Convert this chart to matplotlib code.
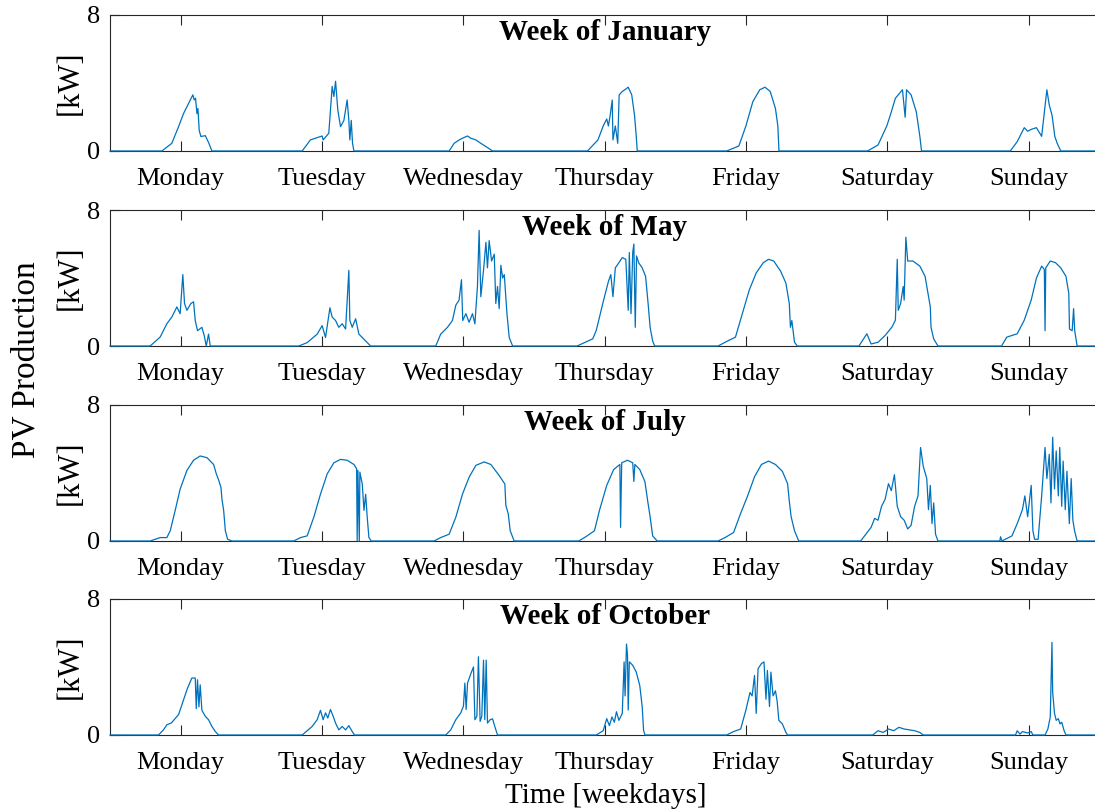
import matplotlib
matplotlib.use("Agg")
import matplotlib.pyplot as plt

# weekday names on the x axis, time is given in days from Monday 00:00
days = ["Monday", "Tuesday", "Wednesday", "Thursday", "Friday", "Saturday", "Sunday"]
titles = ["Week of January", "Week of May", "Week of July", "Week of October"]

# week of January
jan_t = [0,
         0.367, 0.437, 0.485, 0.520, 0.556, 0.586, 0.596, 0.605, 0.615, 0.622, 0.631, 0.643, 0.674, 0.697, 0.721,
         1.360, 1.418, 1.501, 1.508, 1.548, 1.572, 1.584, 1.596, 1.612, 1.631, 1.655, 1.678, 1.690, 1.697, 1.707, 1.716, 1.726,
         2.400, 2.435, 2.471, 2.494, 2.530, 2.553, 2.589, 2.624, 2.671, 2.707,
         3.379, 3.453, 3.490, 3.515, 3.527, 3.539, 3.554, 3.559, 3.576, 3.593, 3.603, 3.625, 3.643, 3.667, 3.692, 3.712, 3.724, 3.731,
         4.364, 4.450, 4.500, 4.549, 4.598, 4.635, 4.672, 4.709, 4.726, 4.734,
         5.361, 5.435, 5.497, 5.521, 5.558, 5.608, 5.627, 5.637, 5.669, 5.706, 5.731, 5.743,
         6.371, 6.420, 6.470, 6.494, 6.519, 6.556, 6.593, 6.630, 6.647, 6.667, 6.686, 6.703, 6.728, 7]
jan_kw = [0,
          0, 0.45, 1.43, 2.2, 2.8, 3.3, 3.0, 3.1, 2.2, 2.5, 1.2, 0.85, 0.9, 0.5, 0,
          0, 0.65, 0.88, 0.65, 1.04, 3.8, 3.2, 4.1, 2.4, 1.43, 1.8, 3.0, 1.8, 0.65, 1.8, 0.45, 0,
          0, 0.45, 0.65, 0.75, 0.88, 0.75, 0.65, 0.45, 0.2, 0,
          0, 0.65, 1.47, 1.88, 1.47, 2.08, 3.0, 0.65, 1.47, 0.45, 3.3, 3.5, 3.6, 3.75, 3.3, 2.08, 0.86, 0,
          0, 0.29, 1.47, 2.9, 3.6, 3.75, 3.5, 2.5, 1.47, 0,
          0, 0.35, 1.47, 2.08, 3.1, 3.6, 1.98, 3.6, 3.3, 2.3, 0.86, 0,
          0, 0.55, 1.37, 1.16, 1.27, 1.37, 0.86, 3.6, 2.7, 2.08, 0.86, 0.45, 0, 0]

# week of May
may_t = [0,
         0.284, 0.355, 0.402, 0.437, 0.473, 0.496, 0.515, 0.527, 0.544, 0.572, 0.591, 0.603, 0.619, 0.650, 0.667, 0.681, 0.697, 0.709,
         1.336, 1.395, 1.466, 1.501, 1.525, 1.556, 1.572, 1.596, 1.619, 1.643, 1.667, 1.690, 1.697, 1.714, 1.738, 1.761, 1.797, 1.844,
         2.305, 2.340, 2.388, 2.423, 2.447, 2.470, 2.487, 2.496, 2.518, 2.541, 2.565, 2.582, 2.600, 2.612, 2.624, 2.643, 2.660, 2.671,
         2.683, 2.700, 2.719, 2.730, 2.742, 2.754, 2.766, 2.778, 2.790, 2.809, 2.825, 2.849,
         3.305, 3.416, 3.441, 3.490, 3.527, 3.544, 3.559, 3.576, 3.601, 3.625, 3.650, 3.667, 3.675, 3.687, 3.699, 3.707, 3.717, 3.726,
         3.741, 3.766, 3.790, 3.810, 3.822, 3.840, 3.854,
         4.303, 4.376, 4.426, 4.475, 4.524, 4.573, 4.623, 4.660, 4.697, 4.746, 4.783, 4.807, 4.815, 4.825, 4.844, 4.864,
         5.300, 5.356, 5.386, 5.435, 5.485, 5.534, 5.558, 5.571, 5.578, 5.595, 5.613, 5.620, 5.632, 5.645, 5.682, 5.731, 5.768, 5.805,
         5.810, 5.829, 5.859,
         6.309, 6.346, 6.420, 6.470, 6.519, 6.556, 6.593, 6.612, 6.617, 6.622, 6.654, 6.691, 6.728, 6.765, 6.785, 6.790, 6.809, 6.819,
         6.827, 6.844, 7]
may_kw = [0,
          0, 0.53, 1.31, 1.7, 2.3, 1.9, 4.2, 2.5, 2.1, 2.5, 2.6, 1.5, 0.9, 1.1, 0.6, 0, 0.7, 0,
          0, 0.2, 0.7, 1.2, 0.5, 2.25, 1.7, 1.5, 1.1, 1.31, 1.0, 4.45, 1.5, 1.1, 1.6, 0.7, 0.4, 0,
          0, 0.7, 1.1, 1.5, 2.4, 2.7, 3.9, 1.5, 1.9, 1.4, 1.9, 1.3, 3.5, 6.8, 2.9, 4.45, 6.1, 4.6,
          6.2, 5.0, 5.4, 2.5, 3.5, 2.2, 4.75, 4.0, 4.2, 1.9, 0.5, 0,
          0, 0.42, 0.92, 2.6, 3.8, 4.2, 2.9, 4.6, 4.9, 5.2, 5.1, 2.1, 5.5, 1.9, 5.5, 6.0, 1.1, 5.3,
          4.9, 4.6, 4.1, 2.3, 1.1, 0.3, 0,
          0, 0.32, 0.52, 1.9, 3.3, 4.3, 4.9, 5.1, 5.0, 4.4, 3.7, 2.5, 1.1, 1.5, 0.22, 0,
          0, 0.72, 0.12, 0.22, 0.62, 1.12, 1.52, 5.1, 2.1, 2.5, 3.5, 2.7, 6.4, 5.0, 5.0, 4.7, 4.1, 2.3,
          1.1, 0.42, 0,
          0, 0.52, 0.72, 1.52, 2.7, 4.0, 4.7, 4.5, 0.9, 4.6, 5.0, 4.9, 4.6, 4.1, 3.1, 1.0, 0.9, 2.2,
          0.9, 0, 0]

# week of July
jul_t = [0,
         0.284, 0.355, 0.402, 0.426, 0.461, 0.496, 0.544, 0.591, 0.638, 0.686, 0.733, 0.752, 0.768, 0.785, 0.792, 0.804, 0.816, 0.832, 0.863,
         1.300, 1.348, 1.395, 1.442, 1.489, 1.537, 1.584, 1.631, 1.678, 1.726, 1.745, 1.749, 1.754, 1.764, 1.768, 1.785, 1.797, 1.809,
         1.820, 1.832, 1.849,
         2.293, 2.340, 2.400, 2.447, 2.494, 2.541, 2.589, 2.648, 2.695, 2.754, 2.794, 2.801, 2.818, 2.832, 2.860,
         3.318, 3.367, 3.428, 3.465, 3.515, 3.564, 3.608, 3.613, 3.621, 3.662, 3.699, 3.707, 3.714, 3.749, 3.785, 3.805, 3.822, 3.840, 3.872,
         4.303, 4.352, 4.413, 4.463, 4.512, 4.561, 4.610, 4.660, 4.709, 4.758, 4.795, 4.807, 4.820, 4.844, 4.874,
         5.312, 5.349, 5.386, 5.411, 5.435, 5.460, 5.485, 5.509, 5.529, 5.551, 5.571, 5.595, 5.620, 5.645, 5.669, 5.694, 5.718, 5.736,
         5.755, 5.780, 5.792, 5.805, 5.817, 5.829, 5.842, 5.859,
         6.297, 6.302, 6.312, 6.383, 6.420, 6.457, 6.474, 6.494, 6.519, 6.531, 6.543, 6.568, 6.593, 6.617, 6.630, 6.647, 6.659, 6.671,
         6.684, 6.696, 6.711, 6.721, 6.735, 6.745, 6.760, 6.772, 6.789, 6.802, 6.814, 6.826, 6.844, 7]
jul_kw = [0,
          0, 0.2, 0.2, 0.6, 1.8, 3.05, 4.15, 4.75, 5.0, 4.9, 4.5, 3.95, 3.6, 3.15, 2.45, 1.8, 0.6, 0.1, 0,
          0, 0.2, 0.3, 1.4, 2.75, 3.95, 4.6, 4.8, 4.75, 4.5, 4.25, 0, 4.15, 0, 4.05, 3.35, 1.8, 2.75,
          1.4, 0.2, 0,
          0, 0.2, 0.4, 1.4, 2.75, 3.75, 4.45, 4.65, 4.5, 3.85, 3.35, 2.1, 1.6, 0.6, 0,
          0, 0.25, 0.6, 1.84, 3.27, 4.2, 4.5, 0.8, 4.6, 4.75, 4.6, 3.5, 4.5, 4.2, 3.5, 2.35, 1.43, 0.3, 0,
          0, 0.2, 0.5, 1.63, 2.65, 3.78, 4.5, 4.7, 4.5, 4.1, 3.37, 2.35, 1.43, 0.6, 0,
          0, 0.4, 0.8, 1.33, 1.22, 2.04, 2.45, 3.37, 2.96, 3.9, 2.04, 1.43, 1.22, 0.71, 0.92, 2.04, 2.65, 5.5,
          4.4, 3.67, 1.84, 3.27, 1.02, 2.24, 0.4, 0,
          0, 0.25, 0, 0.3, 1.02, 1.84, 2.65, 1.43, 3.27, 0.6, 0.1, 0.1, 2.65, 5.5, 3.67, 5.1, 2.24, 6.1,
          3.06, 5.3, 2.65, 5.5, 2.04, 4.7, 1.84, 4.1, 1.02, 3.67, 1.22, 0.6, 0, 0]

# week of October
oct_t = [0,
         0.343, 0.378, 0.402, 0.433, 0.485, 0.520, 0.548, 0.579, 0.603, 0.610, 0.619, 0.629, 0.638, 0.650, 0.674, 0.697, 0.721, 0.745, 0.768,
         1.360, 1.395, 1.430, 1.466, 1.489, 1.508, 1.525, 1.541, 1.560, 1.579, 1.596, 1.619, 1.643, 1.667, 1.690, 1.714, 1.730,
         2.376, 2.411, 2.447, 2.482, 2.501, 2.511, 2.520, 2.530, 2.553, 2.572, 2.582, 2.596, 2.607, 2.619, 2.631, 2.643, 2.652, 2.662,
         2.671, 2.690, 2.707, 2.723, 2.742,
         3.441, 3.490, 3.515, 3.534, 3.552, 3.569, 3.584, 3.601, 3.625, 3.638, 3.645, 3.655, 3.662, 3.667, 3.675, 3.699, 3.724, 3.749,
         3.766, 3.776, 3.786,
         4.364, 4.413, 4.463, 4.500, 4.529, 4.544, 4.561, 4.573, 4.586, 4.610, 4.628, 4.642, 4.652, 4.667, 4.677, 4.692, 4.709, 4.721,
         4.733, 4.758, 4.783, 4.795,
         5.398, 5.435, 5.472, 5.509, 5.546, 5.583, 5.620, 5.657, 5.694, 5.731, 5.755,
         6.408, 6.420, 6.440, 6.457, 6.494, 6.519, 6.531, 6.617, 6.637, 6.654, 6.666, 6.671, 6.684, 6.696, 6.711, 6.723, 6.735, 6.752,
         6.765, 7]
oct_kw = [0,
          0, 0.3, 0.6, 0.7, 1.2, 2.05, 2.75, 3.35, 3.35, 1.55, 3.25, 1.65, 2.95, 1.45, 1.1, 0.9, 0.5, 0.2, 0,
          0, 0.25, 0.5, 0.9, 1.45, 0.9, 1.3, 1.0, 1.5, 1.1, 0.7, 0.3, 0.5, 0.3, 0.55, 0.2, 0,
          0, 0.3, 0.9, 1.3, 1.7, 3.05, 1.5, 3.05, 3.6, 4.0, 0.9, 1.1, 4.6, 0.8, 1.1, 4.4, 0.9, 4.4,
          0.7, 0.9, 0.95, 0.5, 0,
          0, 0.25, 0.96, 0.55, 1.06, 0.75, 1.37, 0.86, 1.27, 4.3, 2.3, 5.35, 4.7, 1.47, 4.3, 4.1, 3.7, 2.9,
          1.67, 0.25, 0,
          0, 0.2, 0.35, 1.47, 2.5, 2.3, 3.5, 1.27, 3.9, 4.2, 4.3, 2.1, 3.8, 1.67, 3.7, 2.3, 2.6, 2.0,
          0.86, 0.65, 0.15, 0,
          0, 0.25, 0.15, 0.35, 0.25, 0.45, 0.35, 0.3, 0.25, 0.15, 0,
          0, 0.25, 0.05, 0.2, 0.12, 0.2, 0, 0, 0.35, 1.06, 5.45, 2.5, 1.27, 0.86, 0.96, 0.65, 0.75, 0.25,
          0, 0]

plt.rcParams["font.family"] = "Liberation Serif"

weeks = [(jan_t, jan_kw), (may_t, may_kw), (jul_t, jul_kw), (oct_t, oct_kw)]
bottoms = [0.8134, 0.5723, 0.3313, 0.0915]

fig = plt.figure(figsize=(10.95, 8.09), dpi=100)

for i in range(4):
    t, kw = weeks[i]
    ax = fig.add_axes([0.1005, bottoms[i], 0.9033, 0.1681])
    ax.plot(t, kw, color="#0072BD", lw=0.9, zorder=3, clip_on=False)
    ax.set_xlim(0, 7)
    ax.set_ylim(0, 8)
    ax.set_xticks([d + 0.5 for d in range(7)])
    ax.set_xticklabels(days)
    ax.set_yticks([0, 8])
    ax.tick_params(axis="x", direction="in", length=7.5, width=0.8, top=True,
                   labelsize=19, pad=12, color="#262626")
    ax.tick_params(axis="y", direction="in", length=7.5, width=0.8, right=False,
                   labelsize=19, pad=7)
    for s in ax.spines.values():
        s.set_color("#262626")
        s.set_linewidth(0.8)
    ax.set_ylabel("[kW]", fontsize=22, labelpad=2)
    ax.text(0.5, 0.817, titles[i], transform=ax.transAxes, ha="center",
            va="baseline", fontsize=21, fontweight="bold")

fig.text(0.024, 0.556, "PV Production", rotation=90, ha="center", va="center", fontsize=24)
fig.text(0.553, 0.008, "Time [weekdays]", ha="center", va="baseline", fontsize=21)

fig.savefig("out.png", dpi=100)
